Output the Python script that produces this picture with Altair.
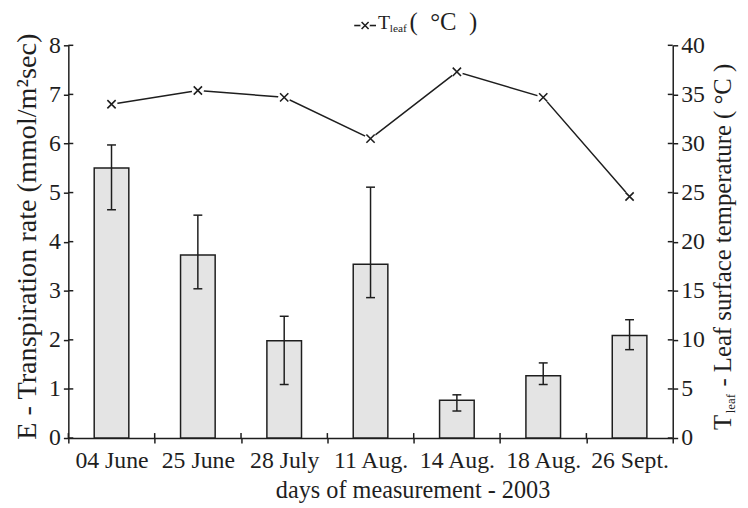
import altair as alt
import pandas as pd

# ---- data ----
dates = ["04 June", "25 June", "28 July", "11 Aug.", "14 Aug.", "18 Aug.", "26 Sept."]
E_mean = [5.50, 3.73, 1.98, 3.54, 0.77, 1.27, 2.09]
E_low = [4.65, 3.04, 1.09, 2.86, 0.55, 1.09, 1.80]
E_high = [5.97, 4.54, 2.48, 5.11, 0.88, 1.53, 2.41]
T_leaf = [34.0, 35.4, 34.7, 30.5, 37.3, 34.7, 24.6]
E_ticks = [0, 1, 2, 3, 4, 5, 6, 7, 8]
T_ticks = [0, 5, 10, 15, 20, 25, 30, 35, 40]

left_title = "E - Transpiration rate (mmol/m²sec)"
x_title = "days of measurement - 2003"
legend_parts = ["T", "leaf", "(\u00a0\u00a0°C\u00a0\u00a0)"]
right_title_parts = ["T", "leaf", "- Leaf surface temperature ( °C )"]

# ---- layout ----
W, H = 611, 397
FONT = "Liberation Serif"
INK = "#1e1e1e"
XSHAPE = "M-1,-1L1,1M-1,1L1,-1"

df = pd.DataFrame({"date": dates, "E": E_mean, "lo": E_low, "hi": E_high, "T": T_leaf})
one = pd.DataFrame({"k": [0]})
base = alt.Chart(df)

xscale = alt.Scale(domain=dates, paddingInner=0, paddingOuter=0)
xaxis = alt.Axis(title=x_title, labelAngle=0, tickBand="extent", tickSize=5,
                 labelPadding=6, titlePadding=6, labelOverlap=False,
                 titleX=348, titleFontSize=24.5)
x_enc = alt.X("date:N", sort=dates, scale=xscale, axis=xaxis)

yL = alt.Scale(domain=[0, 8], nice=False, zero=True)
yL_axis = alt.Axis(title=left_title, values=E_ticks, tickSize=5, labelPadding=3,
                   titlePadding=7, format="d", titleFontSize=28.5, titleY=193)
yR = alt.Scale(domain=[0, 40], nice=False, zero=True)
yR_axis = alt.Axis(title=None, orient="right", values=T_ticks, tickSize=5,
                   labelPadding=3, format="d")

bars = base.mark_bar(width=35, fill="#e4e4e4", stroke=INK, strokeWidth=1.5).encode(
    x=x_enc, y=alt.Y("E:Q", scale=yL, axis=yL_axis))
err = base.mark_rule(color=INK, strokeWidth=1.5).encode(
    x=x_enc, y=alt.Y("lo:Q", scale=yL, axis=yL_axis), y2="hi:Q")
cap_lo = base.mark_tick(size=9, thickness=1.5, color=INK, opacity=1).encode(
    x=x_enc, y=alt.Y("lo:Q", scale=yL, axis=yL_axis))
cap_hi = base.mark_tick(size=9, thickness=1.5, color=INK, opacity=1).encode(
    x=x_enc, y=alt.Y("hi:Q", scale=yL, axis=yL_axis))
in_ticks_L = alt.Chart(pd.DataFrame({"v": E_ticks})).mark_rule(color=INK, strokeWidth=1.5).encode(
    x=alt.value(0), x2=alt.value(5), y=alt.Y("v:Q", scale=yL, axis=yL_axis))
in_ticks_X = base.mark_rule(color=INK, strokeWidth=1.5).encode(
    x=alt.X("date:N", sort=dates, scale=xscale, axis=xaxis, bandPosition=0),
    y=alt.value(H - 5), y2=alt.value(H))

left = alt.layer(bars, err, cap_lo, cap_hi, in_ticks_L, in_ticks_X)

line = base.mark_line(color=INK, strokeWidth=1.5).encode(
    x=x_enc, y=alt.Y("T:Q", scale=yR, axis=yR_axis))
halo = base.mark_point(shape="circle", filled=True, color="white", size=150, opacity=1).encode(
    x=x_enc, y=alt.Y("T:Q", scale=yR, axis=yR_axis))
xm = base.mark_point(shape=XSHAPE, filled=False, color=INK, strokeWidth=1.6, size=70, opacity=1).encode(
    x=x_enc, y=alt.Y("T:Q", scale=yR, axis=yR_axis))
in_ticks_R = alt.Chart(pd.DataFrame({"v": T_ticks})).mark_rule(color=INK, strokeWidth=1.5).encode(
    x=alt.value(W - 5), x2=alt.value(W), y=alt.Y("v:Q", scale=yR, axis=yR_axis))

# legend at top
leg_y = -20
leg_line = alt.Chart(one).mark_rule(color=INK, strokeWidth=1.6).encode(
    x=alt.value(289), x2=alt.value(311), y=alt.value(leg_y))
leg_halo = alt.Chart(one).mark_point(shape="circle", filled=True, color="white", size=90, opacity=1).encode(
    x=alt.value(300), y=alt.value(leg_y))
leg_x = alt.Chart(one).mark_point(shape=XSHAPE, filled=False, color=INK, strokeWidth=1.6, size=50, opacity=1).encode(
    x=alt.value(300), y=alt.value(leg_y))
leg_T = alt.Chart(one).mark_text(text=legend_parts[0], font=FONT, fontSize=20, align="left",
                                 baseline="alphabetic", color=INK).encode(x=alt.value(313), y=alt.value(-16))
leg_sub = alt.Chart(one).mark_text(text=legend_parts[1], font=FONT, fontSize=11.5, align="left",
                                   baseline="alphabetic", color=INK).encode(x=alt.value(325), y=alt.value(-13))
leg_unit = alt.Chart(one).mark_text(text=legend_parts[2], font=FONT, fontSize=25, align="left",
                                    baseline="alphabetic", color=INK).encode(x=alt.value(345), y=alt.value(-15))

# right axis title with subscript (reads bottom to top)
rt_x = W + 59
rt_T = alt.Chart(one).mark_text(text=right_title_parts[0], font=FONT, fontSize=25, angle=270, align="left",
                                baseline="alphabetic", color=INK).encode(x=alt.value(rt_x), y=alt.value(389))
rt_sub = alt.Chart(one).mark_text(text=right_title_parts[1], font=FONT, fontSize=13, angle=270, align="left",
                                  baseline="alphabetic", color=INK).encode(x=alt.value(rt_x + 4), y=alt.value(372))
rt_rest = alt.Chart(one).mark_text(text=right_title_parts[2], font=FONT, fontSize=25, angle=270, align="left",
                                   baseline="alphabetic", color=INK).encode(x=alt.value(rt_x), y=alt.value(345))

right = alt.layer(line, halo, xm, in_ticks_R, leg_line, leg_halo, leg_x, leg_T, leg_sub, leg_unit,
                  rt_T, rt_sub, rt_rest)

chart = alt.layer(left, right).resolve_scale(y="independent").properties(
    width=W, height=H,
    autosize=alt.AutoSizeParams(type="none"),
    padding={"left": 61, "top": 35, "right": 68, "bottom": 65},
).configure_view(stroke=None).configure_axis(
    labelFont=FONT, titleFont=FONT, labelFontSize=24, titleFontSize=25,
    titleFontWeight="normal", labelColor=INK, titleColor=INK,
    domainColor=INK, tickColor=INK, domainWidth=1.5, tickWidth=1.5, grid=False,
)

chart.save("out.html", embed_options={"renderer": "svg", "actions": False})
